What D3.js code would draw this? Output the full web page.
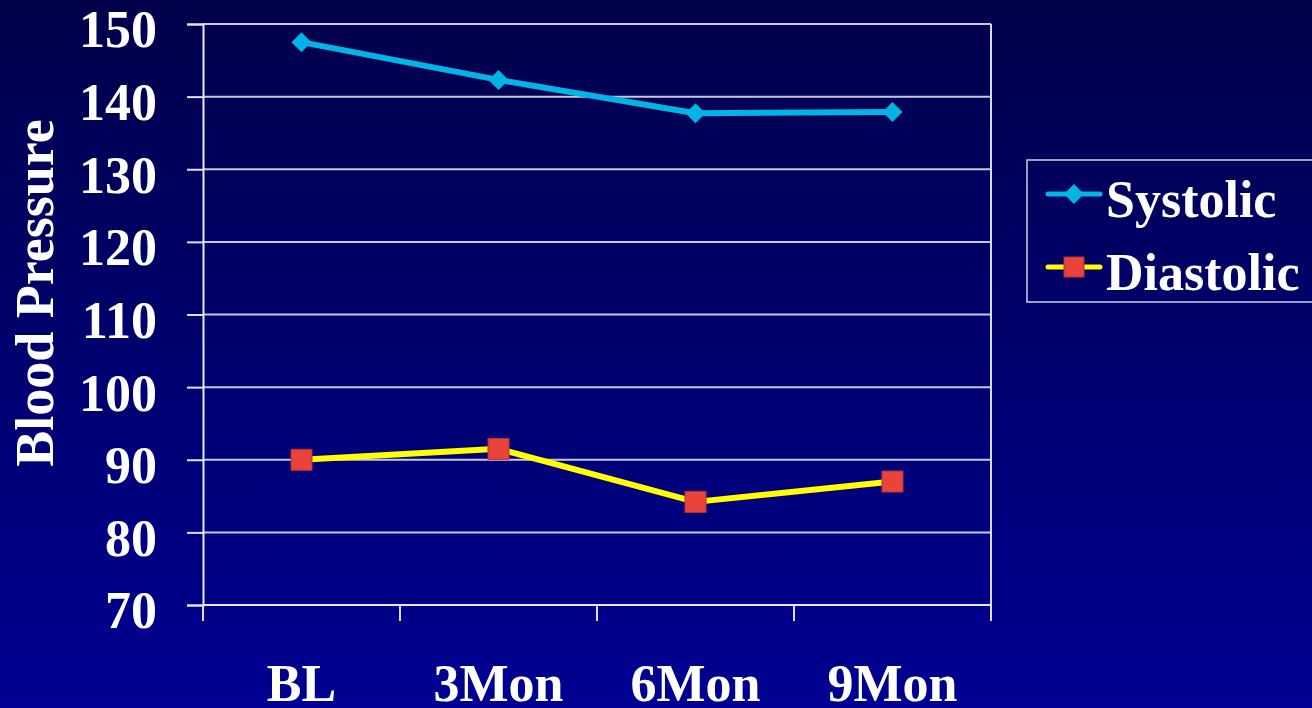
<!DOCTYPE html>
<html>
<head>
<meta charset="utf-8">
<script src="https://cdn.jsdelivr.net/npm/d3@7/dist/d3.min.js"></script>
<style>
  html, body { margin: 0; padding: 0; background: #000060; overflow: hidden; }
  svg { display: block; }
  text { font-family: "Liberation Serif", "Times New Roman", serif; font-weight: bold; fill: #ffffff; }
</style>
</head>
<body>
<svg id="chart" width="1312" height="708"></svg>
<script>
// Blood pressure readings at baseline and follow-up visits
const categories = ["BL", "3Mon", "6Mon", "9Mon"];
const systolic = [147.5, 142.3, 137.7, 137.9];
const diastolic = [90.0, 91.5, 84.2, 87.0];
const yTicks = [70, 80, 90, 100, 110, 120, 130, 140, 150];
const seriesNames = ["Systolic", "Diastolic"];

const W = 1312, H = 708;
const plot = { left: 203, right: 991, top: 24, bottom: 605 };
const FONT = 52;

const svg = d3.select("#chart");

// Background gradient
const defs = svg.append("defs");
const grad = defs.append("linearGradient")
  .attr("id", "bg").attr("x1", 0).attr("y1", 0).attr("x2", 0).attr("y2", 1);
grad.append("stop").attr("offset", "0%").attr("stop-color", "#00004a");
grad.append("stop").attr("offset", "100%").attr("stop-color", "#000092");
svg.append("rect").attr("width", W).attr("height", H).attr("fill", "url(#bg)");

const x = d3.scaleBand().domain(categories).range([plot.left, plot.right]).padding(0);
const y = d3.scaleLinear().domain([70, 150]).range([plot.bottom, plot.top]);
const cx = c => x(c) + x.bandwidth() / 2;

// Horizontal gridlines
svg.append("g").selectAll("line").data(yTicks.filter(v => v > 70)).join("line")
  .attr("x1", plot.left).attr("x2", plot.right)
  .attr("y1", d => y(d)).attr("y2", d => y(d))
  .attr("stroke", "#c8c8dc").attr("stroke-width", 2);

// Right border of the plot area
svg.append("line")
  .attr("x1", plot.right).attr("x2", plot.right)
  .attr("y1", plot.top).attr("y2", plot.bottom)
  .attr("stroke", "#d8d8e8").attr("stroke-width", 2);

// Y axis
const yAxis = svg.append("g")
  .attr("transform", `translate(${plot.left},0)`)
  .call(d3.axisLeft(y).tickValues(yTicks).tickSize(16).tickPadding(30).tickFormat(d3.format("d")));
yAxis.select(".domain").attr("stroke", "#e8e8f0").attr("stroke-width", 2);
yAxis.selectAll(".tick line").attr("stroke", "#e0e0ec").attr("stroke-width", 2);
yAxis.selectAll(".tick text")
  .attr("font-size", FONT).attr("fill", "#ffffff")
  .attr("font-family", "'Liberation Serif', 'Times New Roman', serif")
  .attr("font-weight", "bold").attr("dy", "0.44em");

// X axis baseline and category boundary ticks
svg.append("line")
  .attr("x1", plot.left).attr("x2", plot.right)
  .attr("y1", plot.bottom).attr("y2", plot.bottom)
  .attr("stroke", "#e8e8f0").attr("stroke-width", 2);
const bounds = categories.map(c => x(c)).concat([plot.right]);
svg.append("g").selectAll("line").data(bounds).join("line")
  .attr("x1", d => d).attr("x2", d => d)
  .attr("y1", plot.bottom).attr("y2", plot.bottom + 16)
  .attr("stroke", "#e0e0ec").attr("stroke-width", 2);

// Category labels
const xAxis = svg.append("g")
  .attr("transform", `translate(0,${plot.bottom})`)
  .call(d3.axisBottom(x).tickSize(0).tickPadding(0));
xAxis.select(".domain").remove();
xAxis.selectAll(".tick text")
  .attr("font-size", FONT).attr("fill", "#ffffff")
  .attr("font-family", "'Liberation Serif', 'Times New Roman', serif")
  .attr("font-weight", "bold").attr("dy", null).attr("y", 96);

// Y axis title
svg.append("text")
  .attr("transform", "translate(53,293) rotate(-90)")
  .attr("text-anchor", "middle")
  .attr("font-size", 54)
  .text("Blood Pressure");

// Lines
const line = d3.line().x((d, i) => cx(categories[i])).y(d => y(d));
svg.append("path").datum(systolic).attr("d", line)
  .attr("fill", "none").attr("stroke", "#00b4e6").attr("stroke-width", 6).attr("stroke-linejoin", "round");
svg.append("path").datum(diastolic).attr("d", line)
  .attr("fill", "none").attr("stroke", "#ffff00").attr("stroke-width", 6).attr("stroke-linejoin", "round");

// Markers
const diamond = d3.symbol().type(d3.symbolSquare).size(200);
svg.append("g").selectAll("path").data(systolic).join("path")
  .attr("d", diamond())
  .attr("transform", (d, i) => `translate(${cx(categories[i])},${y(d)}) rotate(45)`)
  .attr("fill", "#00b4e6");
svg.append("g").selectAll("rect").data(diastolic).join("rect")
  .attr("x", (d, i) => cx(categories[i]) - 10.5)
  .attr("y", d => y(d) - 10.5)
  .attr("width", 21).attr("height", 21)
  .attr("fill", "#e8443c").attr("stroke", "#b83030").attr("stroke-width", 1);

// Legend
const legend = svg.append("g");
legend.append("rect")
  .attr("x", 1027).attr("y", 160).attr("width", 300).attr("height", 142)
  .attr("fill", "none").attr("stroke", "#d0d0e0").attr("stroke-width", 1.5);
const legendRows = [
  { name: seriesNames[0], color: "#00b4e6", y: 194, marker: "diamond" },
  { name: seriesNames[1], color: "#ffff00", y: 267, marker: "square" }
];
legendRows.forEach(r => {
  legend.append("line")
    .attr("x1", 1048).attr("x2", 1100).attr("y1", r.y).attr("y2", r.y)
    .attr("stroke", r.color).attr("stroke-width", 5).attr("stroke-linecap", "round");
  if (r.marker === "diamond") {
    legend.append("path").attr("d", diamond())
      .attr("transform", `translate(1074,${r.y}) rotate(45)`).attr("fill", "#00b4e6");
  } else {
    legend.append("rect").attr("x", 1064).attr("y", r.y - 10).attr("width", 20).attr("height", 20)
      .attr("fill", "#e8443c").attr("stroke", "#b83030").attr("stroke-width", 1);
  }
  legend.append("text").attr("x", 1106).attr("y", r.y + 23)
    .attr("font-size", FONT).text(r.name);
});
</script>
</body>
</html>
